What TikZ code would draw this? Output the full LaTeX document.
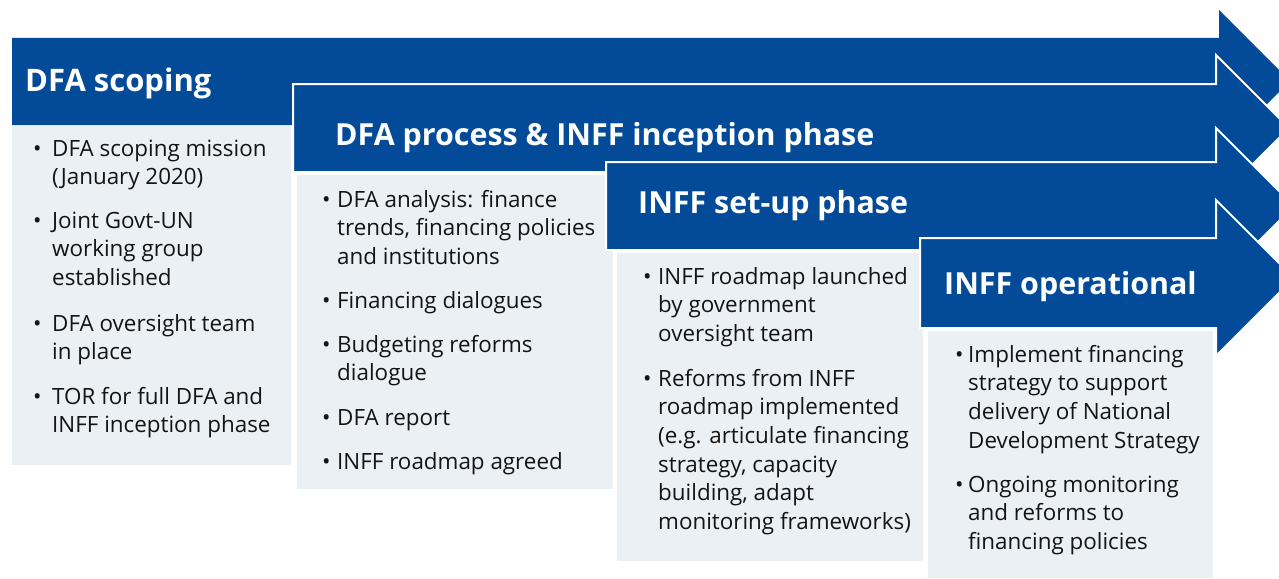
\documentclass[tikz,border=0pt]{standalone}
\usepackage{fontspec}
\setmainfont{Open Sans}
\definecolor{dfablue}{RGB}{3,75,152}
\definecolor{dfagray}{RGB}{235,240,245}
\definecolor{dfatext}{RGB}{20,20,20}
\newcommand{\bulitem}[2][14]{\parbox[t]{340pt}{\hangindent=#1pt\hangafter=1\makebox[#1pt][l]{\textbullet}#2}}
\tikzset{
  phase/.style={fill=dfablue, draw=white, line width=2pt, line join=miter},
  panel/.style={fill=dfagray},
  phasetitle/.style={anchor=base west, inner sep=0pt, text=white, font=\bfseries\fontsize{30.4}{36}\selectfont},
  bigtitle/.style={phasetitle, font=\bfseries\fontsize{31}{36}\selectfont},
  item/.style={anchor=base west, inner sep=0pt, text=dfatext, font=\fontsize{22.4}{28.7}\selectfont},
}
\begin{document}
\begin{tikzpicture}[x=1pt,y=-1pt]
\useasboundingbox (0,0) rectangle (1279,578);
\clip (0,0) rectangle (1279,578);
% phase 1
\path[phase, draw=none] (12,38) -- (1219,38) -- (1219,10) -- (1290,81) -- (1219,152) -- (1219,125) -- (12,125) -- cycle;
\path[panel] (12,126) rectangle (291,465);
\node[bigtitle] (t1) at (25,92) {DFA scoping};
\node[item] (i11) at (33,156) {\bulitem[19]{DFA scoping mission\\(January 2020)}};
\node[item] (i12) at (33,228) {\bulitem[19]{Joint Govt-UN\\working group\\established}};
\node[item] (i13) at (33,331) {\bulitem[19]{DFA oversight team\\in place}};
\node[item] (i14) at (33,404) {\bulitem[19]{TOR for full DFA and\\INFF inception phase}};
% phase 2
\path[phase] (293,84) -- (1216,84) -- (1216,55) -- (1289,128) -- (1216,201) -- (1216,172) -- (293,172) -- cycle;
\path[panel] (297,175) rectangle (613,489);
\node[phasetitle] (t2) at (335,145) {DFA process \& INFF inception phase};
\node[item] (i21) at (322,207) {\bulitem[15]{DFA analysis: finance\\trends, financing policies\\and institutions}};
\node[item] (i22) at (322,308) {\bulitem[15]{Financing dialogues}};
\node[item] (i23) at (322,352) {\bulitem[15]{Budgeting reforms\\dialogue}};
\node[item] (i24) at (322,425) {\bulitem[15]{DFA report}};
\node[item] (i25) at (322,469) {\bulitem[15]{INFF roadmap agreed}};
% phase 3
\path[phase] (606,162) -- (1216,162) -- (1216,128) -- (1294,206) -- (1216,284) -- (1216,250) -- (606,250) -- cycle;
\path[panel] (617,253) rectangle (923,561);
\node[phasetitle] (t3) at (638,213) {INFF set-up phase};
\node[item] (i31) at (643,284) {\bulitem[15]{INFF roadmap launched\\by government\\oversight team}};
\node[item] (i32) at (643,386) {\bulitem[15]{Reforms from INFF\\roadmap implemented\\(e.g. articulate financing\\strategy, capacity\\building, adapt\\monitoring frameworks)}};
% phase 4
\path[phase] (920,238) -- (1216,238) -- (1216,200) -- (1294,278) -- (1216,356) -- (1216,328) -- (920,328) -- cycle;
\path[panel] (928,331) rectangle (1213,578);
\node[phasetitle] (t4) at (944,294) {INFF operational};
\node[item] (i41) at (955,362) {\bulitem[13]{Implement financing\\strategy to support\\delivery of National\\Development Strategy}};
\node[item] (i42) at (955,492) {\bulitem[13]{Ongoing monitoring\\and reforms to\\financing policies}};
\end{tikzpicture}
\end{document}
